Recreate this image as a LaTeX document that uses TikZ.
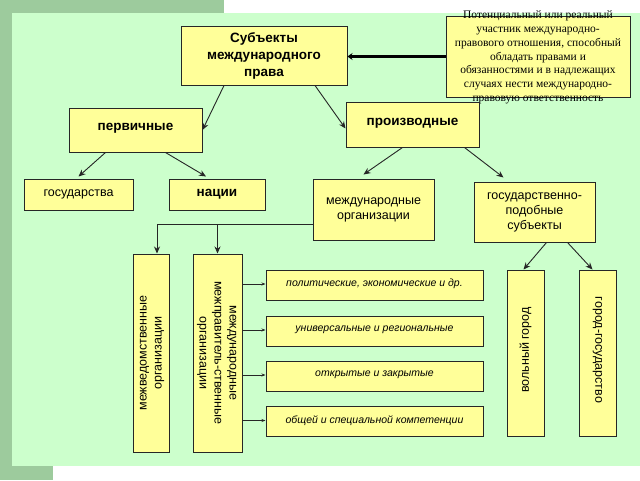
\documentclass[tikz,border=0pt]{standalone}
\usepackage{fontspec}
\setmainfont{Liberation Serif}
\setsansfont{Liberation Sans}
\usetikzlibrary{arrows.meta, positioning}
\definecolor{darkgreen}{RGB}{157,203,157}
\definecolor{lightgreen}{RGB}{204,255,204}
\definecolor{boxyellow}{RGB}{255,255,153}
\tikzset{yellowbox/.style={draw=black!85, fill=boxyellow, line width=1pt, inner sep=0pt, align=center, font=\sffamily},
boldlabel/.style={font=\sffamily\bfseries\fontsize{13.5}{17}\selectfont},
plainlabel/.style={font=\sffamily\fontsize{12.5}{15}\selectfont},
italiclabel/.style={font=\sffamily\itshape\fontsize{10.5}{12}\selectfont},
linkarrow/.style={-{Stealth[length=7pt, width=6pt]}, black!85, line width=0.9pt}}

\begin{document}
\begin{tikzpicture}[x=1pt, y=-1pt,
        vbox/.style={yellowbox, plainlabel},
        hbox/.style={yellowbox, italiclabel, minimum width=217pt, minimum height=30pt}
    ]
        % Background
        \useasboundingbox (0,0) rectangle (640,480);
        \fill[white] (0,0) rectangle (640,480);
        \fill[darkgreen] (0,0) rectangle (224,13);
        \fill[darkgreen] (0,0) rectangle (12,480);
        \fill[darkgreen] (0,466) rectangle (53,480);
        \fill[lightgreen] (12,13) rectangle (640,466);
        % Upper levels
        \node[yellowbox, boldlabel, minimum width=166pt, minimum height=59pt] (subj) at (264,55.5) {Субъекты\\международного\\права};
        \node[yellowbox, minimum width=184pt, minimum height=81pt] (def) at (538,56.5) {};
        \node[align=center, font=\fontsize{11.5}{13.8}\selectfont] (deftext) at ([yshift=-1pt]def.center) {Потенциальный или реальный\\участник международно-\\правового отношения, способный\\обладать правами и\\обязанностями и в надлежащих\\случаях нести международно-\\правовую ответственность};
        \node[yellowbox, boldlabel, minimum width=133pt, minimum height=44pt] (prim) at (135.5,130) {\raisebox{7pt}{первичные}};
        \node[yellowbox, boldlabel, minimum width=133pt, minimum height=45pt] (deriv) at (412.5,124.5) {\raisebox{6pt}{производные}};
        % Second level
        \node[yellowbox, plainlabel, minimum width=109pt, minimum height=31pt] (states) at (78.5,194.5) {государства};
        \node[yellowbox, boldlabel, minimum width=96pt, minimum height=31pt] (nations) at (217,194.5) {\raisebox{2pt}{нации}};
        \node[yellowbox, plainlabel, minimum width=121pt, minimum height=61pt] (intorg) at (373.5,209.5) {международные\\организации};
        \node[yellowbox, plainlabel, minimum width=121pt, minimum height=60pt] (statelike) at (534.5,212) {государственно-\\подобные\\субъекты};
        % Organisations
        \node[vbox, minimum width=36pt, minimum height=198pt] (interdep) at (151,353) {\rotatebox{90}{\begin{tabular}{@{}c@{}}межведомственные\\организации\end{tabular}}};
        \node[vbox, minimum width=49pt, minimum height=198pt] (intergov) at (217.5,353) {\rotatebox{-90}{\begin{tabular}{@{}c@{}}международные\\межправитель-ственные\\организации\end{tabular}}};
        \node[hbox] (kind1) at (374.5,285) {\raisebox{4pt}{политические, экономические и др.}};
        \node[hbox] (kind2) at (374.5,331) {\raisebox{4pt}{универсальные и региональные}};
        \node[hbox] (kind3) at (374.5,376) {\raisebox{4pt}{открытые и закрытые}};
        \node[hbox] (kind4) at (374.5,421.5) {\raisebox{4pt}{общей и специальной компетенции}};
        % Free city, city-state
        \node[vbox, minimum width=37pt, minimum height=166pt] (freecity) at (525.5,353) {\rotatebox{90}{\hspace*{6pt}вольный город}};
        \node[vbox, minimum width=37pt, minimum height=166pt] (citystate) at (597.5,353) {\rotatebox{-90}{город-государство\hspace*{6pt}}};
        % Connectors
        \draw[black, line width=3pt, -{Stealth[length=5pt, width=7pt]}] (def.west) -- (def.west -| subj.east);
        \draw[linkarrow] ([xshift=-40pt]subj.south) -- (prim.east);
        \draw[linkarrow] ([xshift=51pt]subj.south) -- ([yshift=-4pt]deriv.west);
        \draw[linkarrow] ([xshift=-30pt]prim.south) -- ([yshift=2pt]states.north);
        \draw[linkarrow] ([xshift=30pt]prim.south) -- ([xshift=-11pt, yshift=2pt]nations.north);
        \draw[linkarrow] ([xshift=-10pt]deriv.south) -- ([xshift=-10pt, yshift=4pt]intorg.north);
        \draw[linkarrow] ([xshift=52pt]deriv.south) -- ([xshift=-31pt, yshift=4pt]statelike.north);
        \draw[linkarrow] ([xshift=12pt]statelike.south) -- ([xshift=-2pt]freecity.north);
        \draw[linkarrow] ([xshift=33pt]statelike.south) -- ([xshift=-5pt]citystate.north);
        \draw[linkarrow] ([yshift=-14.5pt]intorg.west) -| ([xshift=6pt]interdep.north);
        \draw[linkarrow] ([yshift=-14.5pt]intorg.west) -| (intergov.north);
        \foreach \kind in {kind1, kind2, kind3, kind4} {
            \draw[linkarrow, -{Stealth[length=4pt, width=3pt]}] ([yshift=1pt]intergov.east |- \kind.west) -- ([yshift=1pt]\kind.west);
        }
    \end{tikzpicture}
\end{document}
